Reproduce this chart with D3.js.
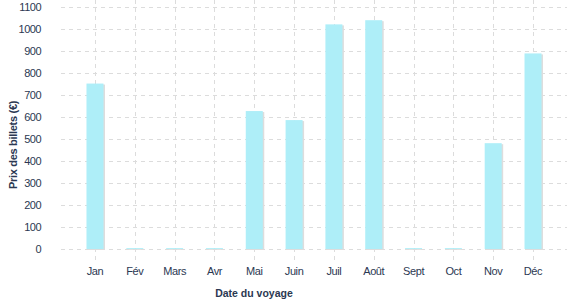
<!DOCTYPE html>
<html><head><meta charset="utf-8">
<script src="https://cdn.jsdelivr.net/npm/d3@7"></script>
<style>body{margin:0;background:#fff}svg{display:block;font-family:"Liberation Sans",Arial,sans-serif}</style>
</head><body><svg id="c" width="577" height="300"></svg>
<script>
const months = ["Jan","Fév","Mars","Avr","Mai","Juin","Juil","Août","Sept","Oct","Nov","Déc"];
const prices = [752,4,4,4,627,586,1021,1040,4,4,481,889];
const yTicks = [0,100,200,300,400,500,600,700,800,900,1000,1100];

const svg = d3.select("#c");
const L=61,R=567,T=7,B=249;
const x = d3.scaleBand().domain(months).range([L,R]).paddingInner(0.573).paddingOuter(0.64);
const y = d3.scaleLinear().domain([0,1100]).range([B,T]);
const txt="#2b3852";
const g = svg.append("g");
g.selectAll(".hg").data(yTicks).join("line")
 .attr("x1",L).attr("x2",R).attr("y1",d=>Math.round(y(d))+0.5).attr("y2",d=>Math.round(y(d))+0.5)
 .attr("stroke","#dcdcdc").attr("stroke-dasharray","4,4");
g.selectAll(".vg").data(months).join("line")
 .attr("x1",d=>Math.round(x(d)+x.bandwidth()/2)+0.5).attr("x2",d=>Math.round(x(d)+x.bandwidth()/2)+0.5)
 .attr("y1",0).attr("y2",262)
 .attr("stroke","#dcdcdc").attr("stroke-dasharray","4,4");
g.selectAll(".sh").data(prices).join("rect")
 .attr("x",(d,i)=>x(months[i])+1.5).attr("width",x.bandwidth())
 .attr("y",d=>y(d)+1).attr("height",d=>B-y(d)).attr("fill","#dddddd");
g.selectAll(".bar").data(prices).join("rect")
 .attr("x",(d,i)=>x(months[i])).attr("width",x.bandwidth())
 .attr("y",d=>y(d)).attr("height",d=>B-y(d)).attr("fill","#aeeef8");
const ya = d3.axisLeft(y).tickValues(yTicks).tickFormat(d3.format("d")).tickSize(0).tickPadding(0);
const yg = svg.append("g").attr("transform","translate(41,0)").call(ya);
yg.select(".domain").remove();
yg.selectAll("text").attr("fill",txt).style("font-size","11px").style("letter-spacing","-0.5px");
const xa = d3.axisBottom(x).tickSize(0).tickPadding(0);
const xg = svg.append("g").attr("transform","translate(0,267)").call(xa);
xg.select(".domain").remove();
xg.selectAll("text").attr("fill",txt).style("font-size","11px").style("letter-spacing","-0.4px");
svg.append("text").attr("x",254).attr("y",297).attr("text-anchor","middle")
 .attr("fill",txt).style("font-size","10.5px").style("font-weight","bold").text("Date du voyage");
svg.append("text").attr("transform","translate(17,145) rotate(-90)").attr("text-anchor","middle")
 .attr("fill",txt).style("font-size","11px").style("font-weight","bold").style("letter-spacing","-0.3px").text("Prix des billets (€)");
</script></body></html>
